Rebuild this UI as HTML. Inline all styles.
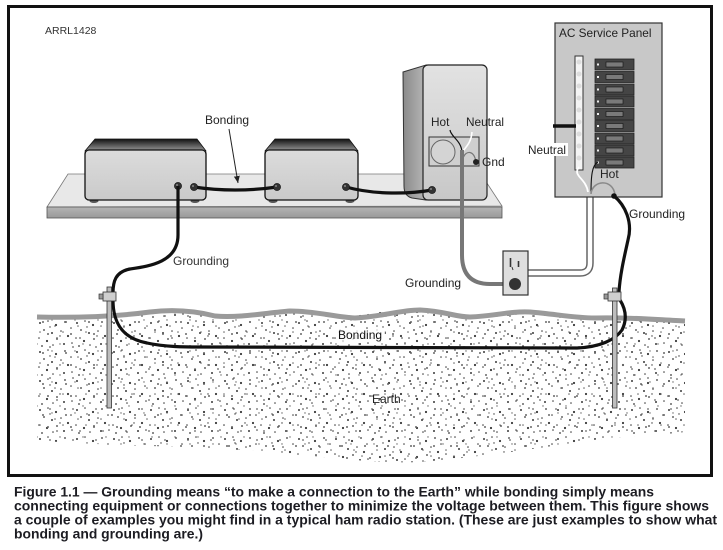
<!DOCTYPE html>
<html><head><meta charset="utf-8"><style>
html,body{margin:0;padding:0;background:#fff;}
svg{display:block;}
text{font-family:"Liberation Sans",Arial,sans-serif;}
</style></head><body>
<svg width="723" height="550" viewBox="0 0 723 550" xmlns="http://www.w3.org/2000/svg">
<defs>
<linearGradient id="topg" x1="0" y1="0" x2="0" y2="1"><stop offset="0" stop-color="#111"/><stop offset="1" stop-color="#9a9a9a"/></linearGradient>
<linearGradient id="frontg" x1="0" y1="0" x2="0" y2="1"><stop offset="0" stop-color="#dcdcdc"/><stop offset="1" stop-color="#cacaca"/></linearGradient>
<linearGradient id="sideg" x1="0" y1="0" x2="1" y2="0"><stop offset="0" stop-color="#8a8a8a"/><stop offset="1" stop-color="#b8b8b8"/></linearGradient>
<linearGradient id="spkg" x1="0" y1="0" x2="0" y2="1"><stop offset="0" stop-color="#e2e2e2"/><stop offset="1" stop-color="#c8c8c8"/></linearGradient>
<linearGradient id="shelfg" x1="0" y1="0" x2="0" y2="1"><stop offset="0" stop-color="#b4b4b4"/><stop offset="1" stop-color="#999"/></linearGradient>
<pattern id="stA" width="37" height="29" patternUnits="userSpaceOnUse">
<g fill="#3a3a3a">
<circle cx="3" cy="4" r="1"/><circle cx="11" cy="2" r="0.8"/><circle cx="19" cy="6" r="1.1"/><circle cx="28" cy="3" r="0.9"/><circle cx="34" cy="9" r="0.8"/><circle cx="7" cy="11" r="0.9"/><circle cx="15" cy="14" r="1"/><circle cx="24" cy="12" r="0.8"/><circle cx="31" cy="17" r="1.1"/><circle cx="2" cy="19" r="0.8"/><circle cx="10" cy="22" r="1.1"/><circle cx="20" cy="20" r="0.9"/><circle cx="27" cy="25" r="1"/><circle cx="35" cy="24" r="0.8"/><circle cx="5" cy="27" r="0.9"/><circle cx="16" cy="26" r="0.8"/><circle cx="23" cy="17" r="0.7"/><circle cx="13" cy="8" r="0.7"/>
</g></pattern>
<pattern id="stB" width="23" height="31" patternUnits="userSpaceOnUse">
<g fill="#666">
<circle cx="4" cy="6" r="0.9"/><circle cx="14" cy="3" r="0.7"/><circle cx="20" cy="12" r="1"/><circle cx="9" cy="16" r="0.8"/><circle cx="2" cy="24" r="1"/><circle cx="17" cy="22" r="0.8"/><circle cx="11" cy="28" r="0.9"/><circle cx="6" cy="10" r="0.7"/>
</g></pattern>
<marker id="arr" markerWidth="8" markerHeight="8" refX="7" refY="4" orient="auto" markerUnits="userSpaceOnUse"><path d="M0,1 L7,4 L0,7 Z" fill="#222"/></marker>
</defs>

<rect width="723" height="550" fill="#fff"/>
<!-- frame -->
<rect x="8.5" y="6.5" width="703" height="469" fill="none" stroke="#111" stroke-width="3"/>

<text x="45" y="34" font-size="10.5" fill="#333">ARRL1428</text>

<!-- earth stipple -->
<path d="M37,320 C80,318 130,312 180,313 C230,318 260,312 300,313 C330,316 350,318 380,312 C420,309 450,318 480,317 C510,312 540,313 580,318 C620,318 660,318 685,322 L685,432 C650,436 610,436 560,445 C510,452 470,458 420,462 C380,464 340,458 300,455 C250,450 200,447 150,446 C100,445 70,442 37,441 Z" fill="url(#stA)"/>
<path d="M37,320 C80,318 130,312 180,313 C230,318 260,312 300,313 C330,316 350,318 380,312 C420,309 450,318 480,317 C510,312 540,313 580,318 C620,318 660,318 685,322 L685,432 C650,436 610,436 560,445 C510,452 470,458 420,462 C380,464 340,458 300,455 C250,450 200,447 150,446 C100,445 70,442 37,441 Z" fill="url(#stB)"/>
<!-- ground surface -->
<path d="M37,317 C80,318 120,316 150,312 C175,309 195,311 215,316 C240,318 265,313 290,311 C315,311 335,317 355,318 C380,317 400,310 420,310 C445,311 455,317 470,317 C495,316 510,311 530,312 C555,314 575,318 595,318 C630,317 660,320 685,321" fill="none" stroke="#9a9a9a" stroke-width="5"/>

<!-- shelf -->
<polygon points="68,174 481,174 502,206 47,207" fill="#e8e8e8" stroke="#777" stroke-width="0.8"/>
<rect x="47" y="207" width="455" height="11" fill="url(#shelfg)" stroke="#555" stroke-width="0.8"/>

<!-- box 1 -->
<polygon points="95,139 197,139 206,151 85,151" fill="url(#topg)" stroke="#111" stroke-width="0.8"/>
<ellipse cx="94" cy="201" rx="4.5" ry="2" fill="#555"/>
<ellipse cx="195" cy="201" rx="4.5" ry="2" fill="#555"/>
<rect x="85" y="150" width="121" height="50" rx="4" fill="url(#frontg)" stroke="#111" stroke-width="1.3"/>
<!-- box 2 -->
<polygon points="275,139 349,139 358,151 265,151" fill="url(#topg)" stroke="#111" stroke-width="0.8"/>
<ellipse cx="273" cy="201" rx="4.5" ry="2" fill="#555"/>
<ellipse cx="350" cy="201" rx="4.5" ry="2" fill="#555"/>
<rect x="265" y="150" width="93" height="50" rx="4" fill="url(#frontg)" stroke="#111" stroke-width="1.3"/>

<!-- speaker -->
<path d="M403,72 L426,65 L426,200 L412,198 Q404,196 404,186 Z" fill="url(#sideg)" stroke="#333" stroke-width="1"/>
<rect x="423" y="65" width="64" height="135" rx="5" fill="url(#spkg)" stroke="#222" stroke-width="1.2"/>
<rect x="429" y="137" width="50" height="29" fill="#cfcfcf" stroke="#333" stroke-width="1"/>
<circle cx="443" cy="152" r="12" fill="#d4d4d4" stroke="#666" stroke-width="1"/>

<!-- bonding wires between boxes -->
<path d="M194,187 C220,191 250,191 277,187" fill="none" stroke="#111" stroke-width="3.2"/>
<path d="M346,187 C375,195 410,194 432,190" fill="none" stroke="#111" stroke-width="3.2"/>
<g fill="#333" stroke="#111" stroke-width="0.6">
<circle cx="178" cy="186" r="3.6"/><circle cx="194" cy="187" r="3.6"/>
<circle cx="277" cy="187" r="3.6"/><circle cx="346" cy="187" r="3.6"/>
<circle cx="432" cy="190" r="3.6"/>
</g>
<g fill="#888"><circle cx="177" cy="185" r="1"/><circle cx="193" cy="186" r="1"/><circle cx="276" cy="186" r="1"/><circle cx="345" cy="186" r="1"/><circle cx="431" cy="189" r="1"/></g>

<!-- bonding label + arrow -->
<text x="205" y="124" font-size="12" fill="#222">Bonding</text>
<line x1="229" y1="129" x2="238" y2="183" stroke="#222" stroke-width="1" marker-end="url(#arr)"/>

<!-- speaker labels & internal wires -->
<text x="431" y="126" font-size="11.8" fill="#222">Hot</text>
<text x="466" y="126" font-size="11.8" fill="#222">Neutral</text>
<path d="M450,130 C451,137 461,140 462,152" fill="none" stroke="#111" stroke-width="1.2"/>
<path d="M472,132 C471,144 465,147 462,153" fill="none" stroke="#fff" stroke-width="1.6"/>
<path d="M476,162 C474,150 466,150 463,158" fill="none" stroke="#777" stroke-width="1.2"/>
<circle cx="476" cy="162" r="3" fill="#222"/>
<text x="482" y="166" font-size="12" fill="#222">Gnd</text>

<!-- power cord -->
<path d="M462,150 L462,255 Q462,284 490,284 L512,284" fill="none" stroke="#777" stroke-width="4"/>

<!-- conduit -->
<path d="M528,273 L580,273 Q590,273 590,263 L590,194" fill="none" stroke="#666" stroke-width="7.5"/>
<path d="M528,273 L580,273 Q590,273 590,263 L590,194" fill="none" stroke="#fff" stroke-width="4.5"/>

<!-- outlet -->
<rect x="503" y="251" width="25" height="44" fill="#dedede" stroke="#333" stroke-width="1.2"/>
<line x1="510.5" y1="258" x2="510.5" y2="267" stroke="#333" stroke-width="1.6"/>
<line x1="518.5" y1="261" x2="518.5" y2="267" stroke="#333" stroke-width="1.6"/>
<path d="M512,267 L513,270" stroke="#333" stroke-width="1"/>
<circle cx="515" cy="284" r="6" fill="#333"/>
<text x="405" y="287" font-size="12" fill="#222">Grounding</text>

<!-- service panel -->
<rect x="555" y="23" width="107" height="174" fill="#c8c8c8" stroke="#333" stroke-width="1.2"/>
<text x="559" y="37" font-size="11.8" fill="#222">AC Service Panel</text>
<rect x="575" y="56" width="8" height="114" fill="#f4f4f4" stroke="#333" stroke-width="1"/>
<g fill="#dcdcdc">
<circle cx="579" cy="62" r="2.5"/><circle cx="579" cy="74" r="2.5"/><circle cx="579" cy="86" r="2.5"/><circle cx="579" cy="98" r="2.5"/><circle cx="579" cy="110" r="2.5"/><circle cx="579" cy="122" r="2.5"/><circle cx="579" cy="134" r="2.5"/><circle cx="579" cy="146" r="2.5"/><circle cx="579" cy="158" r="2.5"/>
</g>
<line x1="553" y1="126" x2="576" y2="126" stroke="#111" stroke-width="3.5"/>
<g stroke="#222" stroke-width="0.8">
<rect x="595" y="59" width="39" height="11" fill="#454545"/>
<rect x="595" y="71.5" width="39" height="11" fill="#454545"/>
<rect x="595" y="84" width="39" height="11" fill="#454545"/>
<rect x="595" y="96" width="39" height="11" fill="#454545"/>
<rect x="595" y="108.5" width="39" height="11" fill="#454545"/>
<rect x="595" y="120.5" width="39" height="11" fill="#454545"/>
<rect x="595" y="133" width="39" height="11" fill="#454545"/>
<rect x="595" y="145" width="39" height="11" fill="#454545"/>
<rect x="595" y="157" width="39" height="11" fill="#454545"/>
</g>
<g fill="#7a7a7a" stroke="#111" stroke-width="0.6">
<rect x="606" y="62" width="17" height="5"/><rect x="606" y="74.5" width="17" height="5"/><rect x="606" y="87" width="17" height="5"/><rect x="606" y="99" width="17" height="5"/><rect x="606" y="111.5" width="17" height="5"/><rect x="606" y="123.5" width="17" height="5"/><rect x="606" y="136" width="17" height="5"/><rect x="606" y="148" width="17" height="5"/><rect x="606" y="160" width="17" height="5"/>
</g>
<g fill="#eee">
<rect x="597" y="63.5" width="2" height="2"/><rect x="597" y="76" width="2" height="2"/><rect x="597" y="88.5" width="2" height="2"/><rect x="597" y="100.5" width="2" height="2"/><rect x="597" y="113" width="2" height="2"/><rect x="597" y="125" width="2" height="2"/><rect x="597" y="137.5" width="2" height="2"/><rect x="597" y="149.5" width="2" height="2"/><rect x="597" y="161.5" width="2" height="2"/>
</g>
<rect x="527" y="143" width="41" height="13" fill="#fff"/>
<text x="528" y="154" font-size="11.8" fill="#222">Neutral</text>
<text x="600" y="178" font-size="12" fill="#222">Hot</text>
<path d="M579,167 C572,176 586,178 588,192" fill="none" stroke="#fff" stroke-width="1.8"/>
<path d="M598,162 C592,165 591,176 591,193" fill="none" stroke="#111" stroke-width="1.1"/>
<path d="M591,194 C592,180 613,178 615,195" fill="none" stroke="#8a8a8a" stroke-width="1.6"/>

<!-- grounding wires -->
<path d="M614,196 C625,205 633,222 628,240 C624,258 620,275 619,292" fill="none" stroke="#111" stroke-width="3.2"/>
<circle cx="614" cy="196" r="2.8" fill="#111"/>
<text x="629" y="218" font-size="12" fill="#222">Grounding</text>

<path d="M178,186 L178,235 C178,262 150,266 130,269 C115,272 113,282 113,293" fill="none" stroke="#111" stroke-width="3.2"/>
<text x="173" y="265" font-size="12" fill="#333">Grounding</text>

<!-- earth bonding wire -->
<path d="M113,300 C113,320 120,338 147,343 C165,347 185,347 200,347 L577,348 C600,347 615,340 622,330 C628,318 625,308 620,300" fill="none" stroke="#111" stroke-width="3.2"/>

<!-- rods -->
<rect x="107" y="287" width="4.5" height="121" fill="#bdbdbd" stroke="#333" stroke-width="0.8"/>
<rect x="103" y="292" width="13" height="9" fill="#cfcfcf" stroke="#333" stroke-width="0.8"/>
<rect x="99" y="294" width="4" height="5" fill="#999" stroke="#333" stroke-width="0.7"/>
<rect x="612.5" y="288" width="4.5" height="120" fill="#bdbdbd" stroke="#333" stroke-width="0.8"/>
<rect x="608" y="292" width="13" height="9" fill="#cfcfcf" stroke="#333" stroke-width="0.8"/>
<rect x="604" y="294" width="4" height="5" fill="#999" stroke="#333" stroke-width="0.7"/>

<rect x="336" y="329" width="49" height="13" fill="#fff" opacity="0.8"/>
<text x="338" y="339" font-size="12" fill="#111">Bonding</text>
<text x="372" y="403" font-size="12" fill="#222">Earth</text>

<!-- caption -->
<g font-weight="bold" font-size="14" fill="#1c1c22">
<text x="14" y="496.5" textLength="640" lengthAdjust="spacingAndGlyphs">Figure 1.1 — Grounding means “to make a connection to the Earth” while bonding simply means</text>
<text x="14" y="510.5" textLength="695" lengthAdjust="spacingAndGlyphs">connecting equipment or connections together to minimize the voltage between them. This figure shows</text>
<text x="14" y="524.5" textLength="703" lengthAdjust="spacingAndGlyphs">a couple of examples you might find in a typical ham radio station. (These are just examples to show what</text>
<text x="14" y="538.5" textLength="189" lengthAdjust="spacingAndGlyphs">bonding and grounding are.)</text>
</g>
</svg>
</body></html>
